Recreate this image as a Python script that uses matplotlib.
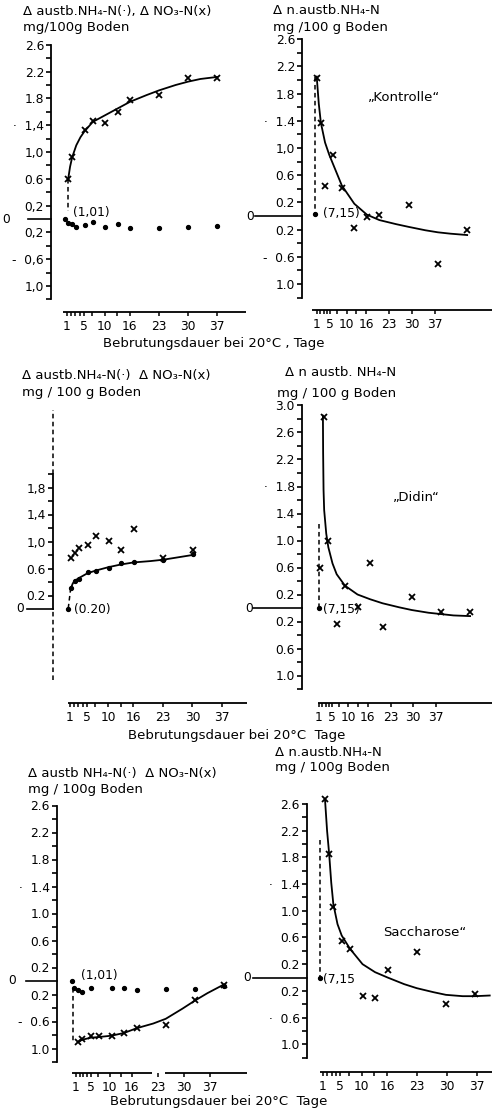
import matplotlib
matplotlib.use("Agg")
import matplotlib.pyplot as plt

# ---------------- data ----------------
x_tick_days = [1, 5, 10, 16, 23, 30, 37]
x_tick_labels = ["1", "5", "10", "16", "23", "30", "37"]
x_minor_days = [2, 3, 4, 7, 13]

# "Kontrolle" left: NH4 (dots) and NO3 (crosses, fitted curve)
k_no3_days = [1, 2, 5, 7, 10, 13, 16, 23, 30, 37]
k_no3 = [0.59, 0.93, 1.33, 1.46, 1.44, 1.60, 1.78, 1.85, 2.10, 2.11]
k_no3_fit_days = [1, 1.5, 2, 3, 4, 5, 7, 10, 13, 16, 20, 23, 27, 30, 33, 37]
k_no3_fit = [0.58, 0.78, 0.92, 1.10, 1.22, 1.31, 1.45, 1.55, 1.65, 1.75, 1.85, 1.92, 2.00, 2.05, 2.09, 2.12]
k_nh4_days = [1, 2, 3, 5, 7, 10, 13, 16, 23, 30, 37]
k_nh4 = [-0.06, -0.08, -0.12, -0.09, -0.04, -0.12, -0.07, -0.13, -0.13, -0.12, -0.10]
k_start_day, k_start = 0.3, 0.0

# "Kontrolle" right: delta non-exchangeable NH4
kn_days = [1, 2, 3, 5, 7, 10, 13, 16, 23, 30, 37]
kn_vals = [2.03, 1.37, 0.44, 0.90, 0.41, -0.18, -0.01, 0.02, 0.16, -0.71, -0.21]
kn_fit_days = [1, 1.5, 2, 3, 4, 5, 7, 10, 13, 16, 20, 23, 27, 30, 33, 37]
kn_fit = [2.05, 1.65, 1.37, 1.08, 0.90, 0.75, 0.45, 0.18, 0.02, -0.06, -0.12, -0.16, -0.21, -0.24, -0.26, -0.28]
kn_start_day, kn_start = 0.6, 0.03

# "Didin" left
d_no3_days = [1, 2, 3, 5, 7, 10, 13, 16, 23, 30]
d_no3 = [0.75, 0.83, 0.90, 0.95, 1.08, 1.01, 0.88, 1.18, 0.76, 0.87]
d_nh4_days = [1, 2, 3, 5, 7, 10, 13, 16, 23, 30]
d_nh4 = [0.31, 0.42, 0.44, 0.55, 0.56, 0.61, 0.68, 0.69, 0.73, 0.82]
d_nh4_fit_days = [1, 1.5, 2, 3, 5, 7, 10, 13, 16, 20, 23, 27, 30]
d_nh4_fit = [0.30, 0.38, 0.42, 0.46, 0.53, 0.57, 0.62, 0.66, 0.69, 0.71, 0.73, 0.77, 0.80]
d_start_day, d_start = 0.4, 0.0

# "Didin" right
dn_days = [1, 2, 3, 5, 7, 10, 13, 16, 23, 30, 37]
dn_vals = [0.59, 2.83, 1.00, -0.24, 0.32, 0.02, 0.66, -0.28, 0.17, -0.06, -0.06]
dn_fit_days = [1.7, 1.75, 1.85, 2, 2.5, 3, 4, 5, 7, 10, 13, 16, 20, 23, 27, 30, 33, 37]
dn_fit = [2.85, 2.30, 1.75, 1.45, 1.10, 0.90, 0.66, 0.50, 0.33, 0.20, 0.13, 0.07, 0.01, -0.03, -0.07, -0.09, -0.11, -0.12]
dn_dash_top = 1.25
dn_start_day, dn_start = 0.76, 0.0

# "Saccharose" left
s_no3_days = [2, 3, 5, 7, 10, 13, 16, 23, 30, 37]
s_no3 = [-0.90, -0.86, -0.81, -0.81, -0.81, -0.77, -0.69, -0.65, -0.28, -0.06]
s_no3_fit_days = [2, 3, 5, 7, 10, 13, 16, 20, 23, 27, 30, 33, 37]
s_no3_fit = [-0.90, -0.87, -0.84, -0.83, -0.81, -0.77, -0.70, -0.63, -0.56, -0.41, -0.29, -0.18, -0.05]
s_nh4_days = [1, 2, 3, 5, 10, 13, 16, 23, 30, 37]
s_nh4 = [-0.11, -0.13, -0.17, -0.11, -0.11, -0.11, -0.13, -0.12, -0.12, -0.08]
s_start_day, s_start = 0.45, 0.0

# "Saccharose" right
sn_days = [1, 2, 3, 5, 7, 10, 13, 16, 23, 30, 37]
sn_vals = [2.67, 1.85, 1.06, 0.54, 0.42, -0.28, -0.30, 0.11, 0.38, -0.40, -0.24]
sn_fit_days = [1, 1.5, 2, 2.5, 3, 4, 5, 7, 10, 13, 16, 20, 23, 27, 30, 34, 37, 40.5]
sn_fit = [2.67, 2.20, 1.85, 1.42, 1.10, 0.80, 0.63, 0.43, 0.20, 0.08, 0.00, -0.10, -0.16, -0.22, -0.26, -0.28, -0.28, -0.27]
sn_dash_top = 2.06
sn_start_day, sn_start = -0.2, 0.0

# y tick values and labels (as printed)
yt_std = [2.6, 2.4, 2.2, 2.0, 1.8, 1.6, 1.4, 1.2, 1.0, 0.8, 0.6, 0.4, 0.2, -0.2, -0.4, -0.6, -0.8, -1.0, -1.2]
yl_k = ["2.6", "", "2.2", "", "1.8", "", "\u00b7  1,4", "", "1,0", "", "0.6", "", "0,2", "0,2", "", "-  0,6", "", "1,0", ""]
yl_kn = ["2.6", "", "2.2", "", "1.8", "", "\u00b7  1.4", "", "1,0", "", "0.6", "", "0.2", "0.2", "", "-  0.6", "", "1.0", ""]
yt_d = [2.0, 1.8, 1.6, 1.4, 1.2, 1.0, 0.8, 0.6, 0.4, 0.2]
yl_d = ["", "1,8", "", "1,4", "", "1,0", "", "0.6", "", "0.2"]
yt_dn = [3.0, 2.8, 2.6, 2.4, 2.2, 2.0, 1.8, 1.6, 1.4, 1.2, 1.0, 0.8, 0.6, 0.4, 0.2, -0.2, -0.4, -0.6, -0.8, -1.0, -1.2]
yl_dn = ["3.0", "", "2.6", "", "2.2", "", "\u00b7  1.8", "", "1.4", "", "1.0", "", "0.6", "", "0.2", "0.2", "", "0.6", "", "1.0", ""]
yl_s = ["2.6", "", "2.2", "", "1.8", "", "\u00b7  1.4", "", "1.0", "", "0.6", "", "0.2", "0.2", "", "-  0.6", "", "1.0", ""]
yl_sn = ["2.6", "", "2.2", "", "1.8", "", "\u00b7  1.4", "", "1.0", "", "0.6", "", "0.2", "0.2", "", "\u00b7  0.6", "", "1.0", ""]

# ---------------- figure ----------------
W, H, DPI = 492, 1115, 100
plt.rcParams['font.family'] = ['DejaVu Sans']
fig = plt.figure(figsize=(W / DPI, H / DPI), dpi=DPI)
fig.patch.set_facecolor('white')
FS = 8.8      # tick labels
TFS = 9.5     # titles / texts
K = 'black'


def ftext(x, y, s, fs=TFS, ha='left'):
    fig.text(x / W, 1 - y / H, s, ha=ha, va='center', fontsize=fs, color=K)


def panel(day1, ppd, y0, ppu, rect, spine_px, bounds, yticks, ylabels,
          zero_from, zero_label):
    d = lambda px: 1 + (px - day1) / ppd
    v = lambda py: (y0 - py) / ppu
    l, t, r, b = rect
    ax = fig.add_axes([l / W, 1 - b / H, (r - l) / W, (b - t) / H])
    ax.set_xlim(d(l), d(r))
    ax.set_ylim(v(b), v(t))
    ax.patch.set_visible(False)
    for s in ('top', 'right', 'bottom'):
        ax.spines[s].set_visible(False)
    sp = ax.spines['left']
    sp.set_position(('data', d(spine_px)))
    sp.set_bounds(*bounds)
    sp.set_linewidth(1.3)
    ax.set_xticks([])
    ax.set_yticks(yticks, ylabels)
    ax.tick_params(axis='y', direction='out', length=3.5, width=1.2, pad=1.5,
                   labelsize=FS, colors=K)
    ax.plot([d(zero_from), d(spine_px)], [0, 0], color=K, lw=1.2, clip_on=False)
    ax.text(d(zero_label), 0, "0", ha='center', va='center', fontsize=FS)
    return ax, d, v


def xaxis(y_px, segs, l1, l37):
    lppd = (l37 - l1) / 36
    left = min(a for a, b in segs)
    right = max(b for a, b in segs)
    ax = fig.add_axes([left / W, 1 - y_px / H, (right - left) / W, 1 / H])
    dd = lambda px: 1 + (px - l1) / lppd
    ax.set_xlim(dd(left), dd(right))
    ax.set_ylim(0, 1)
    for s in ax.spines.values():
        s.set_visible(False)
    ax.patch.set_visible(False)
    for a, b in segs:
        ax.plot([dd(a), dd(b)], [0, 0], color=K, lw=1.3, clip_on=False,
                solid_capstyle='butt')
    ax.set_yticks([])
    ax.set_xticks(x_tick_days, x_tick_labels)
    ax.set_xticks(x_minor_days, minor=True)
    ax.tick_params(axis='x', which='both', direction='out', length=3, width=1.1,
                   pad=2.5, labelsize=FS, colors=K)


def crosses(ax, x, y):
    ax.plot(x, y, ls='none', marker='x', ms=4.8, mew=1.3, color=K, clip_on=False)


def dots(ax, x, y):
    ax.plot(x, y, ls='none', marker='o', ms=2.8, color=K, clip_on=False)


def curve(ax, x, y):
    ax.plot(x, y, color=K, lw=1.3, clip_on=False)


def dashed(ax, x, y):
    ax.plot(x, y, color=K, lw=1.1, ls=(0, (3, 2.2)), clip_on=False)


# ---- Row 1: Kontrolle ----
ax, d, v = panel(68, 4.14, 219, 67, (0, 38, 246, 302), 51, (-1.2, 2.6),
                 yt_std, yl_k, 28, 6)
curve(ax, k_no3_fit_days, k_no3_fit)
crosses(ax, k_no3_days, k_no3)
dots(ax, k_nh4_days, k_nh4)
ax.plot(k_nh4_days[:3], k_nh4[:3], color=K, lw=1.0)
dashed(ax, [k_no3_days[0], k_no3_days[0]], [k_no3[0], 0.12])
dots(ax, [k_start_day], [k_start])
ftext(73, 212, "(1,01)", fs=FS)
ftext(23, 11, "\u0394 austb.NH\u2084-N(\u00b7), \u0394 NO\u2083-N(x)")
ftext(23, 28, "mg/100g Boden")
xaxis(312, [(63, 246)], 67, 217)

ax, d, v = panel(316.7, 4.18, 216, 68, (246, 20, 492, 302), 302, (-1.2, 2.6),
                 yt_std, yl_kn, 255, 250)
curve(ax, kn_fit_days, kn_fit)
crosses(ax, kn_days, kn_vals)
dashed(ax, [kn_start_day, kn_start_day], [kn_fit[0], kn_start])
dots(ax, [kn_start_day], [kn_start])
ftext(323, 213, "(7,15)", fs=FS)
ftext(273, 11, "\u0394 n.austb.NH\u2084-N")
ftext(273, 28, "mg /100 g Boden")
ftext(368, 98, "\u201eKontrolle\u201c")
xaxis(310, [(312, 492)], 317, 435)

ftext(103, 343, "Bebrutungsdauer bei 20\u00b0C , Tage")

# ---- Row 2: Didin ----
ax, d, v = panel(70.7, 4.2, 609, 67.5, (0, 400, 246, 690), 53, (0, 2.0),
                 yt_d, yl_d, 27, 20)
dashed(ax, [d(53), d(53)], [2.0, 2.95])
dashed(ax, [d(53), d(53)], [-1.05, 0])
curve(ax, d_nh4_fit_days, d_nh4_fit)
dots(ax, d_nh4_days, d_nh4)
crosses(ax, d_no3_days, d_no3)
dashed(ax, [d_nh4_days[0], d_start_day], [d_nh4[0], d_start])
dots(ax, [d_start_day], [d_start])
ftext(74, 609, "(0.20)", fs=FS)
ftext(22, 376, "\u0394 austb.NH\u2084-N(\u00b7)  \u0394 NO\u2083-N(x)")
ftext(22, 392, "mg / 100 g Boden")
xaxis(703, [(68, 247)], 70, 222)

ax, d, v = panel(320, 4.17, 608, 67.5, (246, 395, 492, 692), 301.7, (-1.2, 3.0),
                 yt_dn, yl_dn, 253, 249)
curve(ax, dn_fit_days, dn_fit)
crosses(ax, dn_days, dn_vals)
dashed(ax, [dn_start_day, dn_start_day], [dn_dash_top, dn_start])
dots(ax, [dn_start_day], [dn_start])
ftext(323, 609, "(7,15)", fs=FS)
ftext(285, 373, "\u0394 n austb. NH\u2084-N")
ftext(277, 393, "mg / 100 g Boden")
ftext(393, 497, "\u201eDidin\u201c")
xaxis(703, [(318, 492)], 319, 436)

ftext(128, 736, "Bebrutungsdauer bei 20\u00b0C  Tage")

# ---- Row 3: Saccharose ----
ax, d, v = panel(74, 4.17, 981, 67.5, (0, 795, 246, 1065), 56.7, (-1.2, 2.6),
                 yt_std, yl_s, 26, 12)
curve(ax, s_no3_fit_days, s_no3_fit)
crosses(ax, s_no3_days, s_no3)
dots(ax, s_nh4_days, s_nh4)
dashed(ax, [0.76, 0.76], [s_nh4[0], s_no3[0]])
dots(ax, [s_start_day], [s_start])
ftext(81, 975, "(1,01)", fs=FS)
ftext(28, 773, "\u0394 austb NH\u2084-N(\u00b7)  \u0394 NO\u2083-N(x)")
ftext(28, 789, "mg / 100g Boden")
xaxis(1073, [(72, 152), (165, 247)], 76, 210)

ax, d, v = panel(325, 4.17, 977.5, 66.7, (246, 790, 492, 1065), 306.7, (-1.2, 2.6),
                 yt_std, yl_sn, 253, 247)
curve(ax, sn_fit_days, sn_fit)
crosses(ax, sn_days, sn_vals)
dashed(ax, [sn_start_day, sn_start_day], [sn_dash_top, sn_start])
dots(ax, [sn_start_day], [sn_start])
ftext(323, 979, "(7,15", fs=FS)
ftext(275, 753, "\u0394 n.austb.NH\u2084-N")
ftext(275, 768, "mg / 100g Boden")
ftext(383, 932, "Saccharose\u201c")
xaxis(1072, [(320, 492)], 323, 477)

ftext(110, 1101, "Bebrutungsdauer bei 20\u00b0C  Tage")

fig.savefig("out.png", dpi=DPI, facecolor='white')
